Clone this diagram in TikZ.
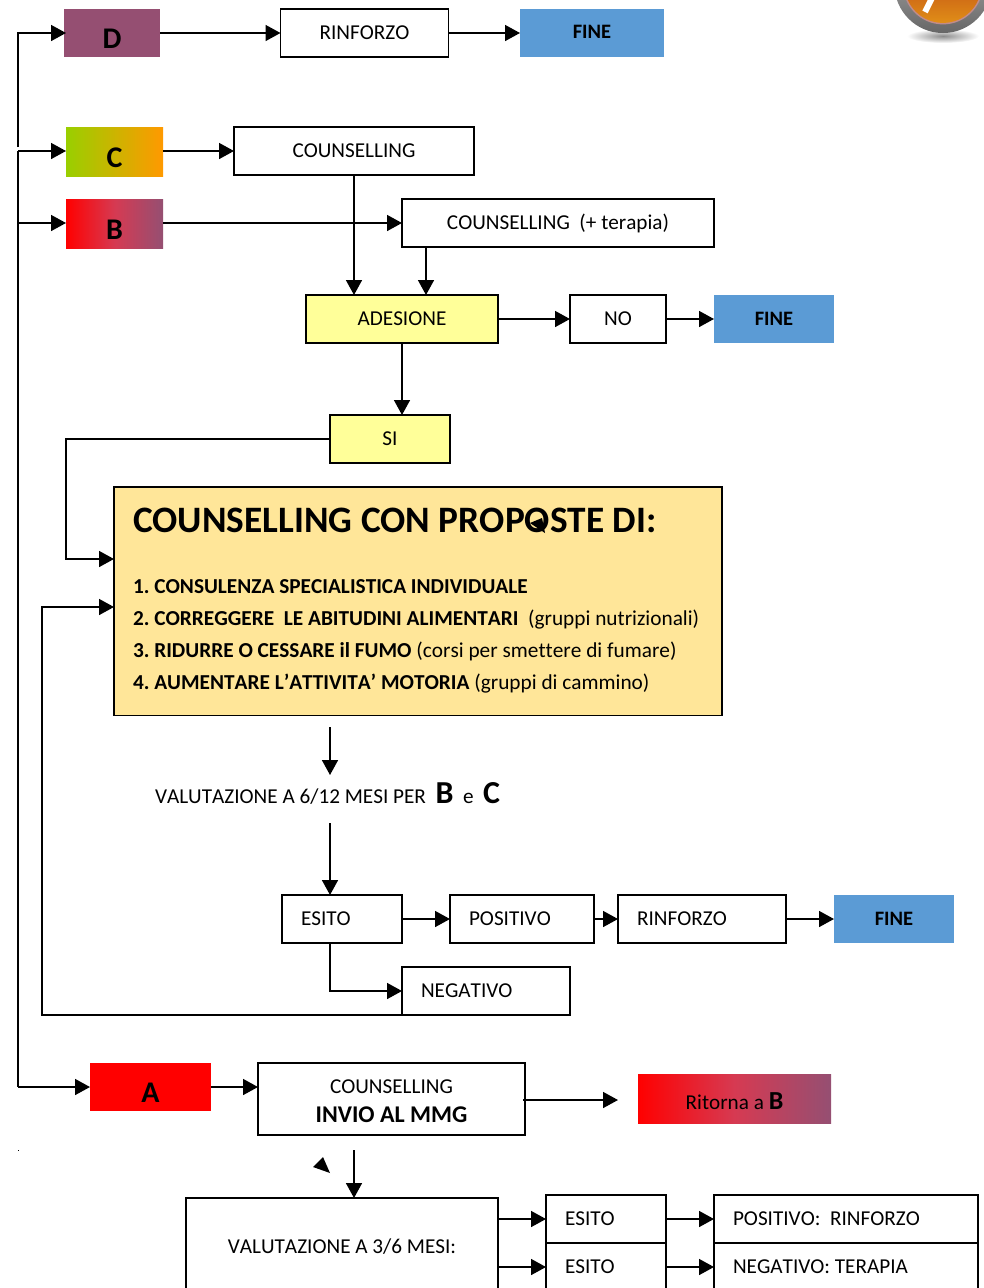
\documentclass[tikz,border=0pt]{standalone}
\usepackage{fontspec}
\setmainfont[Kerning=Off,Ligatures=NoCommon]{Carlito}
\usetikzlibrary{arrows.meta}
\definecolor{prugna}{HTML}{954F72}
\definecolor{azzurro}{HTML}{5B9BD5}
\definecolor{giallino}{HTML}{FFFF99}
\definecolor{crema}{HTML}{FFE699}
\definecolor{verdino}{HTML}{99CF00}
\definecolor{arancio}{HTML}{FF9900}
\definecolor{rosato}{HTML}{D63A52}
\definecolor{iconaAlta}{HTML}{B02A10}
\definecolor{iconaBassa}{HTML}{E08E18}
\newcommand{\fs}[1]{\fontsize{#1}{#1}\selectfont}
\newcommand{\giu}[2]{\raisebox{-#1}[\height][\depth]{#2}}
\frenchspacing
\tikzset{
  testo/.style={font=\fs{21.2}, text=black, inner sep=0pt, outer sep=0pt},
  box/.style={testo, draw=black, line width=1.6pt, minimum height=48},
  leftbox/.style={box, inner xsep=19, text width=#1-38, align=flush left},
  fine/.style={testo, font=\fs{20.5}\bfseries, fill=azzurro, minimum height=48},
  level/.style={testo, font=\fs{30}\bfseries, minimum height=48},
  rossoB/.style={left color=red, right color=prugna, middle color=rosato},
  arr/.style={line width=1.6pt, -{Triangle[length=15pt,width=16pt]}},
  lin/.style={line width=1.6pt},
}
\begin{document}
\begin{tikzpicture}[x=1pt,y=-1pt]
\useasboundingbox (0,0) rectangle (984,1288);
\clip (0,0) rectangle (984,1288);

% Icon in the corner
\shade[inner color=black!45, outer color=white] (943,36) ellipse (36 and 7);
\shade[top color=black!25, bottom color=black!60] (943,-15.6) circle (48.6);
\fill[red!30!gray!70] (943,-15.6) circle (40);
\shade[top color=iconaAlta, bottom color=iconaBassa] (943,-15.6) circle (38.5);
\draw[white, line width=6pt] (932,-2) -- (925,12);

% First row
\node[level, fill=prugna, minimum width=96] (levelD) at (112,33) {\giu{6pt}{D}};
\node[box, minimum width=168] (rinforzoD) at (364.5,33) {\raisebox{1.5pt}{RINFORZO}};
\node[fine, minimum width=144] (fineD) at (592,33) {\raisebox{1.5pt}{FINE}};
\draw[arr] (levelD) -- (rinforzoD);
\draw[arr] (rinforzoD) -- (fineD);

% Levels C and B
\node[level, left color=verdino, right color=arancio, minimum width=97, minimum height=49] (levelC) at (114.5,151.5) {\giu{6pt}{C}};
\node[box, minimum width=240] (counsC) at (354,151) {COUNSELLING};
\node[level, rossoB, minimum width=97, minimum height=49] (levelB) at (114.5,223.5) {\giu{6pt}{B}};
\node[box, minimum width=312] (counsB) at (558,223) {COUNSELLING\ \ (+ terapia)};
\node[box, fill=giallino, minimum width=192] (adesione) at (402,319) {ADESIONE};
\node[box, minimum width=96] (no) at (618,319) {NO};
\node[fine, minimum width=120] (fineAd) at (774,319) {FINE};
\node[box, fill=giallino, minimum width=120] (si) at (390,439) {SI};
\coordinate (counsBOut) at (426,223);
\draw[arr] (levelC.east |- counsC.west) -- (counsC.west);
\draw[arr] (levelB.east |- counsB.west) -- (counsB.west);
\draw[arr] (counsC.south) -- (counsC.south |- adesione.north);
\draw[arr] (counsBOut |- counsB.south) -- (counsBOut |- adesione.north);
\draw[arr] (adesione) -- (no);
\draw[arr] (no) -- (fineAd);
\draw[arr] (adesione.south) -- (adesione.south |- si.north);

% Big box with the proposals
\node[testo, font=\fs{21.3}, draw=black, line width=1.6pt, fill=crema, anchor=north west, minimum width=608, minimum height=228, inner xsep=19, inner ysep=0, text width=570, align=flush left] (proposte) at (114,487) {%
  \rule{0pt}{45pt}{\fs{37.3}\bfseries COUNSELLING CON PROPOSTE DI:}\\[40pt]
  \textbf{1. CONSULENZA SPECIALISTICA INDIVIDUALE}\\[10.7pt]
  \textbf{2. CORREGGERE\ \ LE ABITUDINI ALIMENTARI}\ \ (gruppi nutrizionali)\\[10.7pt]
  \textbf{3. RIDURRE O CESSARE il FUMO} (corsi per smettere di fumare)\\[10.7pt]
  \textbf{4. AUMENTARE L’ATTIVITA’ MOTORIA} (gruppi di cammino)\rule[-26pt]{0pt}{0pt}};
\fill[black] (530,523) -- (542,518) -- (545,533) -- cycle;
\coordinate (inSi) at (114,559);
\coordinate (inNeg) at (114,607);
\coordinate (turnSi) at (66,559);
\coordinate (turnNeg) at (42,1015);
\draw[arr] (si.west) -| (turnSi) -- (inSi);

% Evaluation B and C
\node[testo, anchor=base west] (valutaBC) at (155,803) {VALUTAZIONE A 6/12 MESI PER\ \ {\fs{32}\bfseries B}\ \ e\ \ {\fs{32}\bfseries C}};
\coordinate (freccia1) at (330,727);
\coordinate (freccia2) at (330,775);
\coordinate (freccia3) at (330,823);
\node[leftbox=120, anchor=west] (esito) at (282,919) {ESITO};
\node[leftbox=144, anchor=west] (positivo) at (450,919) {POSITIVO};
\node[leftbox=168, anchor=west] (rinforzoE) at (618,919) {RINFORZO};
\node[fine, minimum width=120] (fineE) at (894,919) {FINE};
\node[leftbox=168, anchor=west] (negativo) at (402,991) {NEGATIVO};
\coordinate (esitoOut) at (330,943);
\draw[arr] (freccia1) -- (freccia2);
\draw[arr] (freccia3) -- (esitoOut |- esito.north);
\draw[arr] (esito) -- (positivo);
\draw[arr] (positivo) -- (rinforzoE);
\draw[arr] (rinforzoE) -- (fineE);
\draw[arr] (esitoOut) |- (negativo.west);
\draw[arr] (negativo.south west) -- (turnNeg) |- (inNeg);

% Level A
\node[level, fill=red, minimum width=121] (levelA) at (150.5,1087) {\giu{6pt}{A}};
\node[box, minimum width=267, minimum height=72, align=center] (invio) at (391.5,1099) {\rule{0pt}{18pt}COUNSELLING\\[7.5pt]{\fs{24}\bfseries INVIO AL MMG}};
\node[testo, rossoB, minimum width=193, minimum height=49] (ritorna) at (734.5,1098.5) {\giu{3pt}{Ritorna a {\fs{26}\bfseries B}}};
\coordinate (invioOut) at (523,1100);
\coordinate (ritornaIn) at (618,1100);
\draw[arr] (levelA.east) -- (levelA.east -| invio.west);
\draw[arr] (invioOut) -- (ritornaIn);

% Trunk on the left
\coordinate (trunkD) at (18,147);
\coordinate (trunkTop) at (18,151);
\draw[arr, shorten >=-2pt] (trunkD) |- (levelD.west);
\draw[arr] (trunkTop) -- (trunkTop -| levelC.west);
\draw[lin] (trunkTop) -- (18,1087);
\draw[arr] (18,223) -- (levelB.west |- counsB.west);
\draw[arr] (18,1087) -- (levelA.west);

% Evaluation A
\node[box, minimum width=312, minimum height=98] (valutaA) at (342,1247) {VALUTAZIONE A 3/6 MESI:};
\node[leftbox=120, anchor=west] (esitoP) at (546,1219) {ESITO};
\node[leftbox=120, anchor=west] (esitoN) at (546,1267) {ESITO};
\node[leftbox=264, anchor=west] (esitoPos) at (714,1219) {POSITIVO:\ \ RINFORZO};
\node[leftbox=264, anchor=west] (esitoNeg) at (714,1267) {NEGATIVO: TERAPIA};
\coordinate (frecciaA) at (354,1150);
\draw[arr] (frecciaA) -- (frecciaA |- valutaA.north);
\draw[arr] (valutaA.east |- esitoP.west) -- (esitoP.west);
\draw[arr] (valutaA.east |- esitoN.west) -- (esitoN.west);
\draw[arr] (esitoP) -- (esitoPos);
\draw[arr] (esitoN) -- (esitoNeg);

% Stray marks
\fill[black] (313,1167) -- (323,1157) -- (330,1173) -- cycle;
\fill[black] (17.5,1149.5) rectangle (18.5,1151);
\end{tikzpicture}
\end{document}
